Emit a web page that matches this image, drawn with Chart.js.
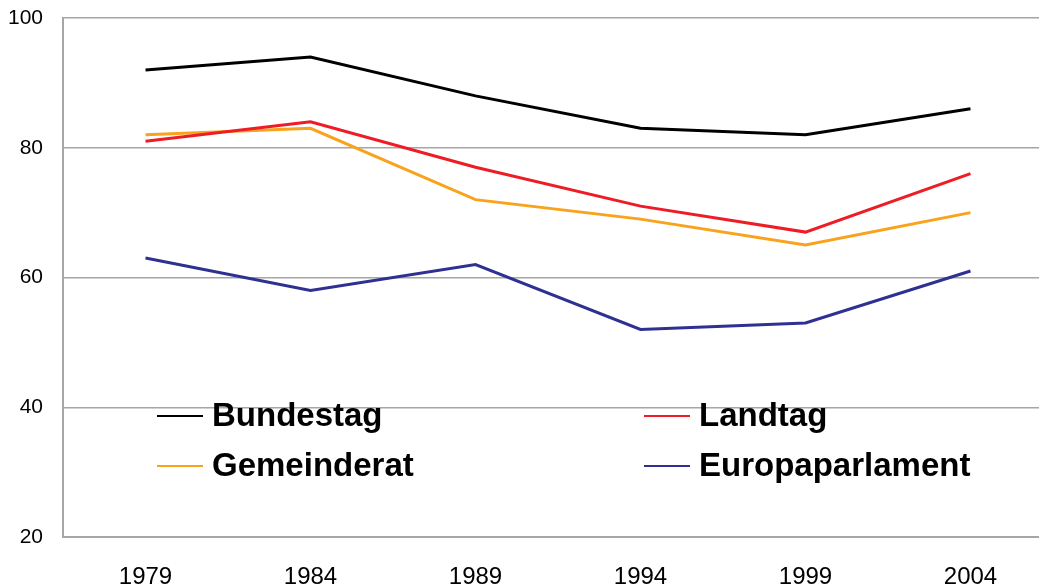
<!DOCTYPE html>
<html>
<head>
<meta charset="utf-8">
<script src="https://cdn.jsdelivr.net/npm/chart.js@4/dist/chart.umd.min.js"></script>
<style>
html,body{margin:0;padding:0;background:#fff;overflow:hidden;}
#wrap{width:1039px;height:587px;position:relative;overflow:hidden;}
#c{display:block;}
</style>
</head>
<body>
<div id="wrap"><canvas id="c" width="1053" height="587"></canvas></div>
<script>
const years = ["1979","1984","1989","1994","1999","2004"];
const bundestag = [92, 94, 88, 83, 82, 86];
const landtag = [81, 84, 77, 71, 67, 76];
const gemeinderat = [82, 83, 72, 69, 65, 70];
const europaparlament = [63, 58, 62, 52, 53, 61];
const seriesNames = ["Bundestag", "Landtag", "Gemeinderat", "Europaparlament"];
const seriesColors = ["#000000", "#ee1c25", "#f8a31b", "#2e3192"];

const legendPlugin = {
  id: 'insideLegend',
  afterDatasetsDraw(chart) {
    const ctx = chart.ctx;
    const a = chart.chartArea;
    const cols = [a.left + 94, a.left + 581];
    const rows = [a.top + 398, a.top + 448];
    ctx.save();
    ctx.font = 'bold 33px "Liberation Sans", Arial, sans-serif';
    ctx.textBaseline = 'middle';
    ctx.textAlign = 'left';
    chart.data.datasets.forEach((ds, i) => {
      const x = cols[i % 2], y = rows[Math.floor(i / 2)];
      ctx.strokeStyle = ds.borderColor;
      ctx.lineWidth = 2;
      ctx.beginPath();
      ctx.moveTo(x, y);
      ctx.lineTo(x + 46, y);
      ctx.stroke();
      ctx.fillStyle = '#000';
      ctx.fillText(ds.label, x + 55, y + 1);
    });
    ctx.restore();
  }
};

const dataArrays = [bundestag, landtag, gemeinderat, europaparlament];
new Chart(document.getElementById('c'), {
  type: 'line',
  data: {
    labels: years,
    datasets: dataArrays.map((d, i) => ({
      label: seriesNames[i],
      data: d,
      borderColor: seriesColors[i],
      backgroundColor: seriesColors[i],
      borderWidth: 3,
      pointRadius: 0,
      tension: 0,
      fill: false
    }))
  },
  options: {
    responsive: false,
    animation: false,
    layout: { padding: { top: 18, right: 0, left: 0, bottom: 0 } },
    plugins: { legend: { display: false }, tooltip: { enabled: false } },
    scales: {
      x: {
        offset: true,
        grid: { display: false, drawTicks: false },
        border: { display: true, color: '#a6a6a6', width: 2 },
        ticks: { color: '#000', padding: 26, font: { family: '"Liberation Sans", Arial, sans-serif', size: 24 } },
        afterFit(s) { s.height = 50; s.paddingLeft = 0; s.paddingRight = 0; }
      },
      y: {
        min: 20, max: 100,
        ticks: { stepSize: 20, color: '#000', padding: 20, font: { family: '"Liberation Sans", Arial, sans-serif', size: 21 } },
        grid: { color: '#a6a6a6', lineWidth: 1.5, drawTicks: false },
        border: { display: true, color: '#a6a6a6', width: 2 },
        afterFit(s) { s.width = 63; s.paddingTop = 0; s.paddingBottom = 0; }
      }
    }
  },
  plugins: [legendPlugin]
});
</script>
</body>
</html>
